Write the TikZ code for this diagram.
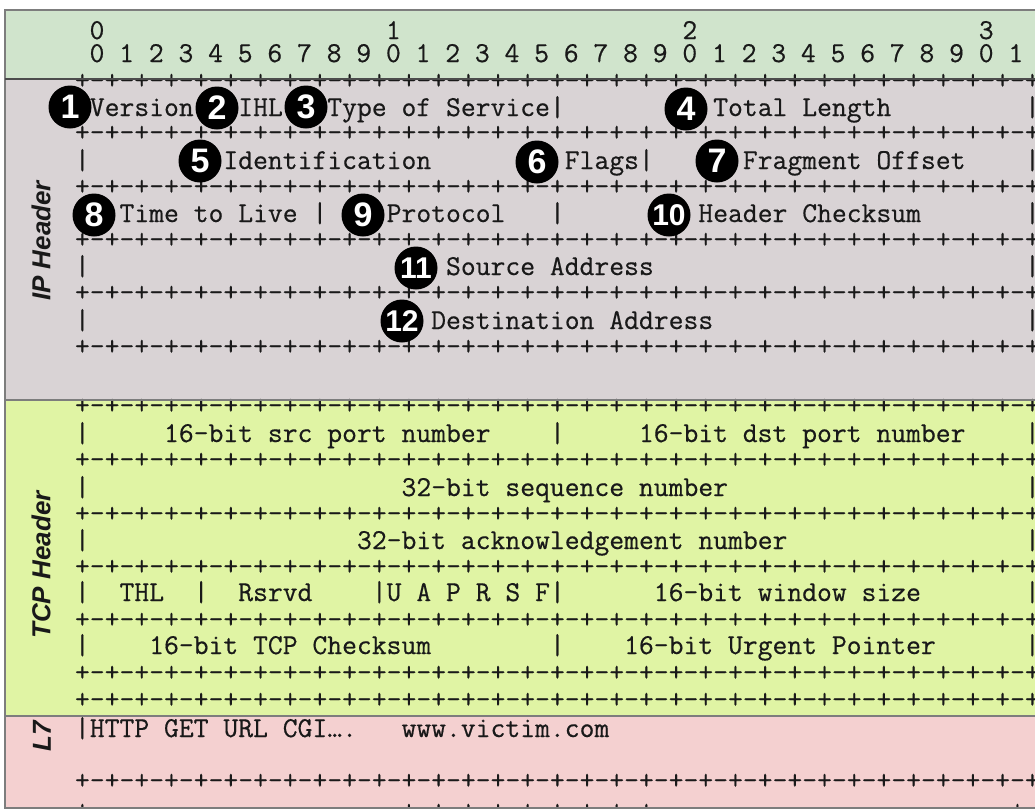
\documentclass[tikz,border=0pt]{standalone}
\usepackage{fontspec}
\newfontfamily\labelfont{Liberation Sans}
\newfontfamily\asciifont{Latin Modern Mono}[FakeBold=0.5]
\usetikzlibrary{positioning}

\definecolor{RulerGreen}{RGB}{208,228,204}
\definecolor{IPGray}{RGB}{217,211,213}
\definecolor{TCPLime}{RGB}{224,244,164}
\definecolor{AppPink}{RGB}{244,208,208}
\definecolor{FrameGray}{RGB}{125,125,125}

% one row of the ascii grid, col 3 to col 67
\newcommand{\seprow}{+-+-+-+-+-+-+-+-%
+-+-+-+-+-+-+-+-%
+-+-+-+-+-+-+-+-%
+-+-+-+-+-+-+-+-+}
% n blank columns
\newcommand{\blanks}[1]{\hspace*{#1\fontdimen2\font}}

\begin{document}
\begin{tikzpicture}[x=0.5pt, y=-0.5pt,
    txt/.style={anchor=base west, inner sep=0pt, text=black!90,
      font=\asciifont\fontsize{14.41}{16}\selectfont\frenchspacing},
    num/.style={circle, fill=black, text=white, inner sep=-3pt, minimum size=21.5pt,
      font=\labelfont\bfseries},
    side/.style={rotate=90, text=black!90,
      font=\labelfont\bfseries\itshape\fontsize{13}{13}\selectfont}]
    \useasboundingbox (0,0) rectangle (1035,810);

    % bands
    \fill[RulerGreen] (5,10) rectangle (1035,79);
    \fill[IPGray] (5,79) rectangle (1035,400);
    \fill[TCPLime] (5,400) rectangle (1035,716);
    \fill[AppPink] (5,716) rectangle (1035,808);

    % bit ruler
    \foreach \t in {0,...,3}
        \node[txt, anchor=base] (tens\t) at ({97+296.4*\t},39) {\t};
    \foreach \b in {0,...,31} {
        \pgfmathtruncatemacro{\d}{mod(\b,10)}
        \node[txt, anchor=base] (bit\b) at ({97+29.64*\b},62) {\d};
    }

    % IP header
    \foreach \y [count=\i] in {82,134,188,241,294,348}
        \node[txt] (ipsep\i) at (74.6,\y+7) {\seprow};
    \node[txt] (iprow1) at (74.6,116) {|Version|\blanks{2}IHL\blanks{2}|Type of Service|\blanks{10}Total Length\blanks{9}|};
    \node[txt] (iprow2) at (74.6,169) {|\blanks{9}Identification\blanks{9}Flags|\blanks{6}Fragment Offset\blanks{4}|};
    \node[txt] (iprow3) at (74.6,222) {|\blanks{2}Time to Live |\blanks{4}Protocol\blanks{3}|\blanks{9}Header Checksum\blanks{7}|};
    \node[txt] (iprow4) at (74.6,275) {|\blanks{24}Source Address\blanks{25}|};
    \node[txt] (iprow5) at (74.6,329) {|\blanks{23}Destination Address\blanks{21}|};

    % TCP header
    \foreach \y [count=\i] in {407,461,515,568,621,674,701}
        \node[txt] (tcpsep\i) at (74.6,\y+7) {\seprow};
    \node[txt] (tcprow1) at (74.6,442) {|\blanks{5}16-bit src port number\blanks{4}|\blanks{5}16-bit dst port number\blanks{4}|};
    \node[txt] (tcprow2) at (74.6,496) {|\blanks{21}32-bit sequence number\blanks{20}|};
    \node[txt] (tcprow3) at (74.6,549) {|\blanks{18}32-bit acknowledgement number\blanks{16}|};
    \node[txt] (tcprow4) at (74.6,601) {|\blanks{2}THL\blanks{2}|\blanks{2}Rsrvd\blanks{4}|U A P R S F|\blanks{6}16-bit window size\blanks{7}|};
    \node[txt] (tcprow5) at (74.6,654) {|\blanks{4}16-bit TCP Checksum\blanks{8}|\blanks{4}16-bit Urgent Pointer\blanks{6}|};

    % L7 payload
    \node[txt] (approw) at (74.6,737) {|HTTP GET URL CGI….\blanks{3}www.victim.com};
    \node[txt] (appsep) at (74.6,789) {\seprow};
    \begin{scope}
        \clip (5,790) rectangle (1035,808);
        \node[txt] (appcut) at (74.6,819) {+\blanks{21}+-+-+-+-+-+-+-+-+\blanks{24}+};
    \end{scope}

    % side labels
    \node[side] (iplabel) at (41,241) {IP Header};
    \node[side] (tcplabel) at (41,565) {TCP Header};
    \node[side] (l7label) at (42,736) {L7};

    % field markers
    \foreach \n/\x/\y/\s in {1/70/107/17, 2/217/108/17, 3/306/107/17, 4/686/109/17,
                             5/200/161/17, 6/537/162/17, 7/717/161/17,
                             8/94/215/17, 9/363/215/17, 10/669/215/15,
                             11/416/268/15, 12/402/321/15}
        \node[num] (mark\n) at (\x,\y) {\fontsize{\s}{\s}\selectfont\n};

    % frame
    \draw[FrameGray, line width=0.8pt] (1036,10) -- (5,10) -- (5,808) -- (1036,808);
    \draw[black!70, line width=1.2pt] (5,79) -- (1035,79);
    \draw[FrameGray, line width=0.8pt] (5,400) -- (1035,400);
    \draw[FrameGray, line width=0.8pt] (5,716) -- (1035,716);
\end{tikzpicture}
\end{document}
